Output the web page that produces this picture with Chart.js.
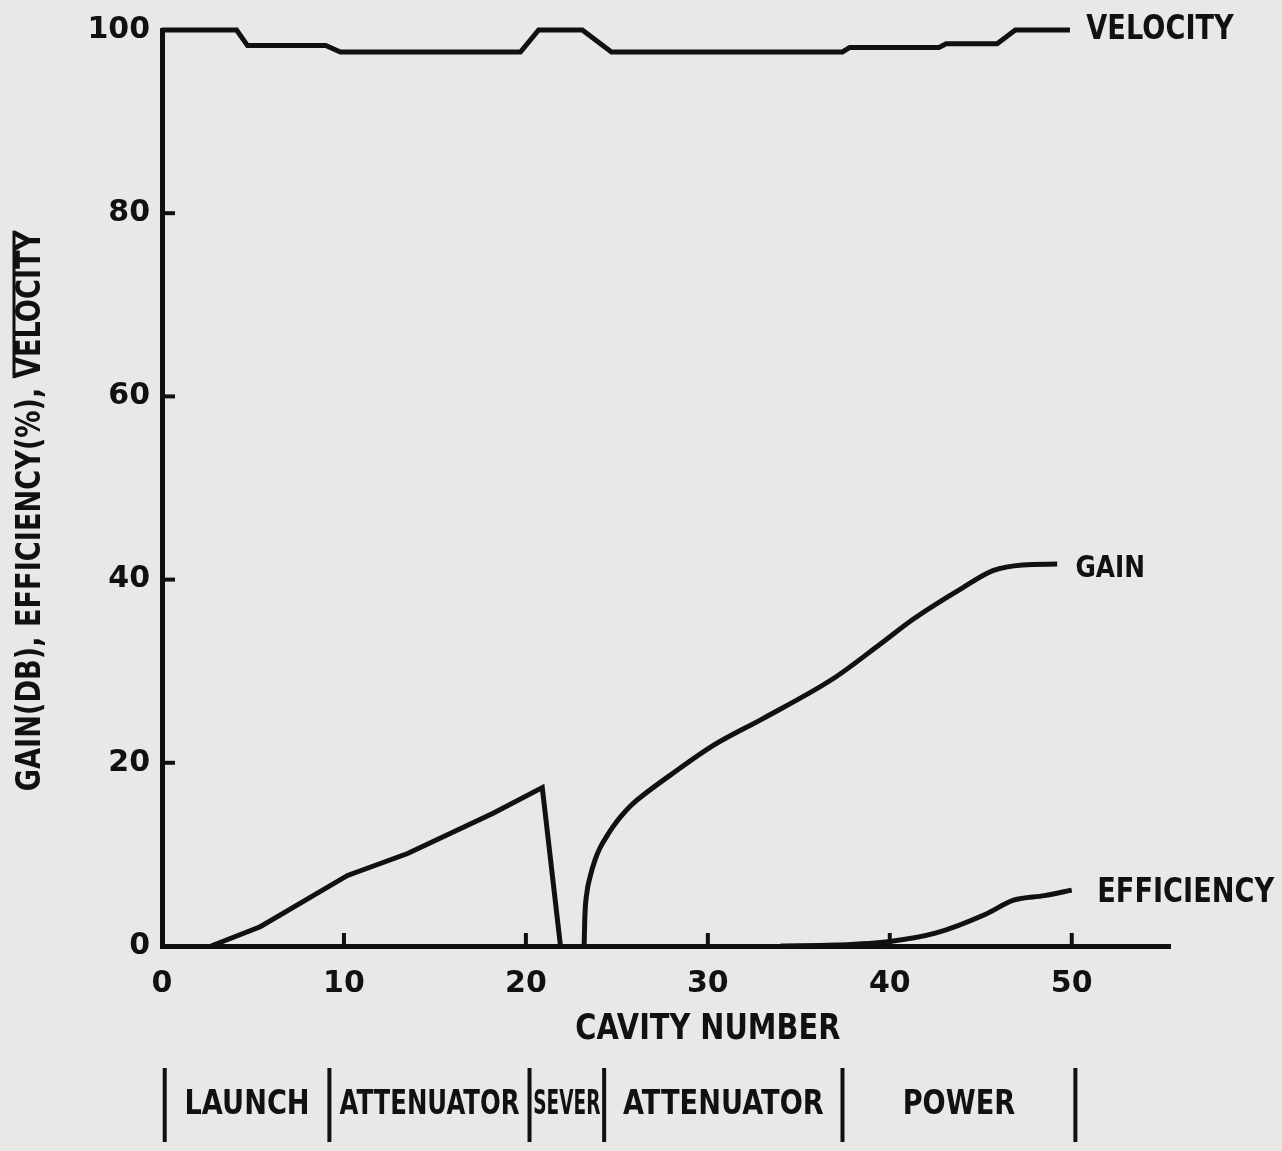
<!DOCTYPE html>
<html>
<head>
<meta charset="utf-8">
<title>Cavity number chart</title>
<script src="https://cdn.jsdelivr.net/npm/chart.js@4.4.1/dist/chart.umd.min.js"></script>
<style>
  html, body { margin: 0; padding: 0; background: #e8e8e6; }
  #wrap { width: 1282px; height: 1151px; }
</style>
</head>
<body>
<div id="wrap"><canvas id="chart" width="1282" height="1151"></canvas></div>
<script>
// values
const xTicks = [0, 10, 20, 30, 40, 50];
const yTicks = [0, 20, 40, 60, 80, 100];

const velocityX = [0, 4.1, 4.7, 9.0, 9.8, 19.7, 20.7, 23.1, 24.7, 37.4, 37.8, 42.7, 43.1, 45.9, 46.9, 49.9];
const velocityY = [100, 100, 98.3, 98.3, 97.6, 97.6, 100, 100, 97.6, 97.6, 98.1, 98.1, 98.5, 98.5, 100, 100];

const gainLaunchX = [2.7, 5.4, 10.2, 13.5, 18.2, 20.9, 21.9];
const gainLaunchY = [0, 2.1, 7.7, 10.1, 14.5, 17.3, 0];

const gainOutputX = [23.2, 23.24, 23.35, 23.52, 23.8, 24.07, 24.45, 24.78, 25.2, 25.8, 26.4, 27.9, 30.3, 33.0, 36.9, 39.5, 41.3, 44.0, 45.7, 47.3, 49.2];
const gainOutputY = [0, 3.2, 5.8, 7.5, 9.4, 10.7, 12.0, 13.0, 14.1, 15.4, 16.4, 18.6, 21.9, 24.8, 29.2, 33.0, 35.7, 39.1, 41.0, 41.6, 41.7];

const efficiencyX = [34, 37, 40, 42.5, 45.3, 46.8, 48.5, 50];
const efficiencyY = [0, 0.1, 0.5, 1.4, 3.5, 5.0, 5.5, 6.1];

const regionEdges = [0.15, 9.2, 20.2, 24.3, 37.4, 50.2];
const regionNames = ["LAUNCH", "ATTENUATOR", "SEVER", "ATTENUATOR", "POWER"];

const INK = "#111111";
const FONT = '"DejaVu Sans", "Liberation Sans", sans-serif';
const SQUEEZE = 0.8;

const zip = (xs, ys) => xs.map((x, i) => ({ x: x, y: ys[i] }));

// hand lettering is narrow, so squeeze the text horizontally
function letter(ctx, text, x, y, size, align, maxWidth) {
  ctx.save();
  ctx.font = "bold " + size + "px " + FONT;
  ctx.textBaseline = "middle";
  ctx.textAlign = "left";
  const natural = ctx.measureText(text).width;
  let k = SQUEEZE;
  if (maxWidth && natural * k > maxWidth) k = maxWidth / natural;
  const w = natural * k;
  ctx.translate(align === "center" ? x - w / 2 : x, y);
  ctx.scale(k, 1);
  ctx.fillStyle = INK;
  ctx.fillText(text, 0, 0);
  ctx.restore();
  return w;
}

function stroke(ctx, x1, y1, x2, y2) {
  ctx.beginPath();
  ctx.moveTo(x1, y1);
  ctx.lineTo(x2, y2);
  ctx.stroke();
}

const annotate = {
  id: "annotate",
  afterDraw(chart) {
    const { ctx, chartArea } = chart;
    const x = chart.scales.x;
    const y = chart.scales.y;
    ctx.save();
    ctx.strokeStyle = INK;
    ctx.lineCap = "butt";

    // inward tick marks
    ctx.lineWidth = 4;
    xTicks.forEach(v => {
      if (v === 0) return;
      const px = x.getPixelForValue(v);
      stroke(ctx, px, chartArea.bottom, px, chartArea.bottom - 13);
    });
    yTicks.forEach(v => {
      if (v === 0) return;
      const py = y.getPixelForValue(v);
      stroke(ctx, chartArea.left, py, chartArea.left + 13, py);
    });

    // curve labels
    letter(ctx, "VELOCITY", x.getPixelForValue(50.8), y.getPixelForValue(100), 34, "left");
    letter(ctx, "GAIN", x.getPixelForValue(50.2), y.getPixelForValue(41.2), 31, "left");
    letter(ctx, "EFFICIENCY", x.getPixelForValue(51.4), y.getPixelForValue(5.8), 34, "left");

    // x title
    letter(ctx, "CAVITY NUMBER", x.getPixelForValue(30), 1030, 36, "center");

    // y title, rotated, with a bar over VELOCITY
    ctx.save();
    ctx.translate(31, 511);
    ctx.rotate(-Math.PI / 2);
    const title = "GAIN(DB), EFFICIENCY(%), VELOCITY";
    const total = letter(ctx, title, 0, 0, 34, "center");
    ctx.font = "bold 34px " + FONT;
    const head = ctx.measureText("GAIN(DB), EFFICIENCY(%), ").width * SQUEEZE;
    ctx.lineWidth = 3;
    stroke(ctx, -total / 2 + head, -17, total / 2, -17);
    ctx.restore();

    // tube sections under the axis
    ctx.lineWidth = 4;
    regionEdges.forEach(v => {
      const px = x.getPixelForValue(v);
      stroke(ctx, px, 1068, px, 1142);
    });
    regionNames.forEach((name, i) => {
      const left = x.getPixelForValue(regionEdges[i]);
      const right = x.getPixelForValue(regionEdges[i + 1]);
      letter(ctx, name, (left + right) / 2, 1105, 34, "center", (right - left) * 0.9);
    });
    ctx.restore();
  }
};

const lineStyle = {
  borderColor: INK,
  borderWidth: 5,
  pointRadius: 0,
  fill: false,
  clip: false
};

new Chart(document.getElementById("chart"), {
  type: "line",
  data: {
    datasets: [
      Object.assign({ label: "Velocity", data: zip(velocityX, velocityY), tension: 0 }, lineStyle),
      Object.assign({ label: "Gain (launch)", data: zip(gainLaunchX, gainLaunchY), tension: 0 }, lineStyle),
      Object.assign({ label: "Gain", data: zip(gainOutputX, gainOutputY), cubicInterpolationMode: "monotone" }, lineStyle),
      Object.assign({ label: "Efficiency", data: zip(efficiencyX, efficiencyY), cubicInterpolationMode: "monotone" }, lineStyle)
    ]
  },
  options: {
    responsive: false,
    animation: false,
    layout: { padding: { top: 28, right: 112, left: 0, bottom: 0 } },
    plugins: {
      legend: { display: false },
      tooltip: { enabled: false }
    },
    scales: {
      x: {
        type: "linear",
        min: 0,
        max: 55.4,
        afterBuildTicks: (scale) => { scale.ticks = xTicks.map(v => ({ value: v })); },
        afterFit: (scale) => { scale.height = 205; },
        grid: { drawOnChartArea: false, drawTicks: false },
        border: { color: INK, width: 5 },
        ticks: {
          padding: 20,
          color: INK,
          font: { family: FONT, size: 30, weight: "bold" }
        }
      },
      y: {
        type: "linear",
        min: 0,
        max: 100,
        afterBuildTicks: (scale) => { scale.ticks = yTicks.map(v => ({ value: v })); },
        afterFit: (scale) => { scale.width = 162; },
        grid: { drawOnChartArea: false, drawTicks: false },
        border: { color: INK, width: 5 },
        ticks: {
          padding: 12,
          color: INK,
          font: { family: FONT, size: 30, weight: "bold" }
        }
      }
    }
  },
  plugins: [annotate]
});
</script>
</body>
</html>
